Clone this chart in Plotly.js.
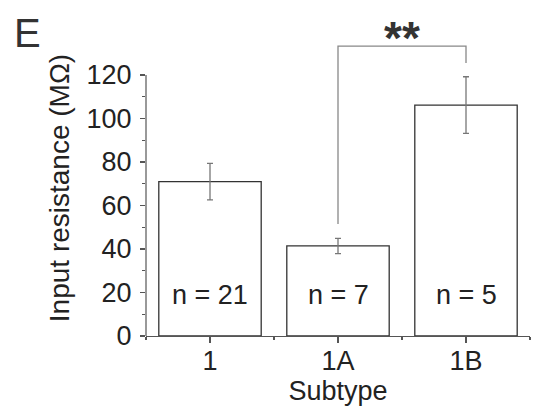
<!DOCTYPE html>
<html>
<head>
<meta charset="utf-8">
<script src="https://cdn.plot.ly/plotly-3.0.1.min.js"></script>
<style>html,body{margin:0;padding:0;background:#fff;}#chart{width:536px;height:407px;}</style>
</head>
<body>
<div id="chart"></div>
<script>
const categories = ['1', '1A', '1B'];
const means = [71, 41.4, 106.2];
const sems = [8.4, 3.5, 13];
const nCounts = [21, 7, 5];
const yTicks = [0, 20, 40, 60, 80, 100, 120];
const yMinorTicks = [10, 30, 50, 70, 90, 110];
const sigPair = [1, 2];          // 1A vs 1B
const sigBracket = [51.5, 133.3, 125.5]; // left foot, top, right foot
const sigLabel = '**';

const xs = categories.map((c, i) => i);
const FONT = 'Liberation Sans, Arial, sans-serif';
const TXT = '#222';
const FS = 27;

const trace = {
  type: 'bar',
  x: xs,
  y: means,
  width: 0.8,
  marker: {color: '#ffffff', line: {color: '#333333', width: 1.3}},
  error_y: {type: 'data', array: sems, visible: true, color: '#777777', thickness: 1.3, width: 3},
  hoverinfo: 'skip'
};

const shapes = [
  {type: 'line', xref: 'paper', yref: 'y', x0: 0, x1: 0, y0: 0, y1: yTicks[yTicks.length - 1],
   line: {color: '#555', width: 1.2}},
  {type: 'path', xref: 'x', yref: 'y',
   path: `M ${sigPair[0]} ${sigBracket[0]} L ${sigPair[0]} ${sigBracket[1]} L ${sigPair[1]} ${sigBracket[1]} L ${sigPair[1]} ${sigBracket[2]}`,
   line: {color: '#888', width: 1.3}}
];

const annotations = nCounts.map((n, i) => ({
  x: i, y: 19, xref: 'x', yref: 'y', text: 'n = ' + n, showarrow: false,
  font: {family: FONT, size: FS, color: TXT}
}));
annotations.push({
  x: (sigPair[0] + sigPair[1]) / 2, y: sigBracket[1], xref: 'x', yref: 'y', yanchor: 'bottom', yshift: -20,
  text: '<b>' + sigLabel + '</b>', showarrow: false, font: {family: FONT, size: 46, color: '#333'}
});
annotations.push({
  x: (12 - 146) / (536 - 146 - 6), y: 1 + (40 - 9) / (407 - 40 - 71), xref: 'paper', yref: 'paper',
  xanchor: 'left', yanchor: 'top', text: 'E', showarrow: false,
  font: {family: FONT, size: 40, color: '#333'}
});

const layout = {
  width: 536, height: 407,
  margin: {l: 146, r: 6, t: 40, b: 71},
  paper_bgcolor: '#fff', plot_bgcolor: '#fff',
  showlegend: false,
  font: {family: FONT, size: FS, color: TXT},
  xaxis: {
    range: [-0.5, 2.5], tickvals: xs, ticktext: categories,
    ticks: 'outside', ticklen: 6, tickwidth: 1.2, tickcolor: '#555',
    minor: {tickvals: [-0.5, 0.5, 1.5, 2.5], ticks: 'outside', ticklen: 3, tickwidth: 1.2, tickcolor: '#555', showgrid: false},
    ticklabelstandoff: -6,
    showline: true, linecolor: '#555', linewidth: 1.2, showgrid: false, zeroline: false,
    tickfont: {family: FONT, size: FS, color: TXT},
    title: {text: 'Subtype', font: {family: FONT, size: FS, color: TXT}, standoff: 2},
    fixedrange: true
  },
  yaxis: {
    range: [0, 136.1], tickvals: yTicks,
    ticks: 'outside', ticklen: 5, tickwidth: 1.2, tickcolor: '#555',
    minor: {tickvals: yMinorTicks, ticks: 'outside', ticklen: 3, tickwidth: 1.2, tickcolor: '#555', showgrid: false},
    ticklabelstandoff: 3,
    showline: false, showgrid: false, zeroline: false,
    tickfont: {family: FONT, size: FS, color: TXT},
    title: {text: 'Input resistance (MΩ)', font: {family: FONT, size: 28, color: TXT}, standoff: 8},
    fixedrange: true
  },
  shapes: shapes,
  annotations: annotations,
  bargap: 0.2
};

Plotly.newPlot('chart', [trace], layout, {displayModeBar: false, staticPlot: true});
</script>
</body>
</html>
